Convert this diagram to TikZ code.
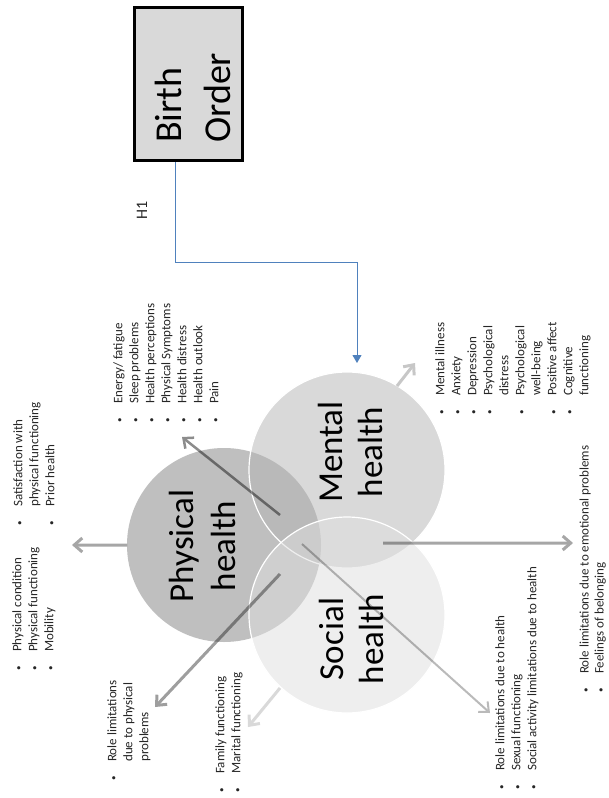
\documentclass[tikz,border=0pt]{standalone}
\usepackage{fontspec}
\setmainfont{Carlito}
\usetikzlibrary{arrows.meta}
\definecolor{txt}{HTML}{262626}
\definecolor{physc}{HTML}{BFBFBF}
\definecolor{mentc}{HTML}{B5B5B5}
\definecolor{socc}{HTML}{DFDFDF}
\definecolor{boxc}{HTML}{D9D9D9}
\definecolor{bluec}{HTML}{4F81BD}
\newcommand\bl{\makebox[6pt][c]{\fontsize{9}{9}\selectfont\textbullet}}
\newcommand\garr[4]{\begin{scope}[transparency group, opacity=#1]\draw[garrow, line width=#2] (#3) -- (#4);\end{scope}}
\tikzset{
  lst/.style={rotate=90, anchor=north west, inner sep=0pt, font=\fontsize{13}{16}\selectfont, text=txt},
  circlbl/.style={rotate=90, anchor=base, inner sep=0pt, font=\fontsize{35}{42}\selectfont, text=black},
  boxlbl/.style={rotate=90, anchor=base west, inner sep=0pt, font=\fontsize{38}{46}\selectfont, text=black},
  garrow/.style={black, -{Straight Barb[length=8pt,width=14pt]}},
  venn/.style={circle, inner sep=0pt, minimum size=196pt},
}
\begin{document}
\begin{tikzpicture}[x=1pt, y=-1pt]
\fill[white] (0,0) rectangle (609,798);
\useasboundingbox (0,0) rectangle (609,798);

% Birth order box
\node[draw=black, line width=3pt, fill=boxc, minimum width=108pt, minimum height=153pt, inner sep=0pt] (bo) at (188.5,84) {};
\node[boxlbl] (birth) at (181,143) {Birth};
\node[boxlbl] (order) at (230,143) {Order};
\node[rotate=90, inner sep=0pt, font=\fontsize{16}{18}\selectfont, text=txt] (h1) at (142,210) {H1};

% circles
\node[venn, fill=physc, minimum size=194pt] (phys) at (224,545) {};
\node[venn, fill=mentc, fill opacity=.5, draw=white, line width=1.2pt] (ment) at (347,470) {};
\node[venn, fill=socc, fill opacity=.5, draw=white, line width=1.2pt] (soc) at (347,615) {};

% blue connector
\coordinate (bstart) at (175,0);
\coordinate (mid) at (0,262);
\coordinate (tgt) at (357,363);
\draw[bluec, line width=1pt, -{Triangle[length=8pt,width=9pt]}] (bo.south -| bstart) -- (bstart |- mid) -| (tgt);

% gray arrows
\coordinate (a1s) at (127,545); \coordinate (a1e) at (72,545);
\coordinate (a2s) at (280,515); \coordinate (a2e) at (182,437);
\coordinate (a3s) at (280,574); \coordinate (a3e) at (155,707);
\coordinate (a4s) at (280,688); \coordinate (a4e) at (248,727);
\coordinate (a5s) at (397,386); \coordinate (a5e) at (415,363);
\coordinate (a6s) at (383,543); \coordinate (a6e) at (573,543);
\coordinate (a7s) at (302,544); \coordinate (a7e) at (490,713);
\garr{.35}{3pt}{a1s}{a1e}
\garr{.45}{2.5pt}{a2s}{a2e}
\garr{.38}{3pt}{a3s}{a3e}
\garr{.15}{3pt}{a4s}{a4e}
\garr{.22}{3pt}{a5s}{a5e}
\garr{.35}{3pt}{a6s}{a6e}
\garr{.27}{2pt}{a7s}{a7e}

% circle labels
\node[circlbl] (p1) at (193,546) {Physical};
\node[circlbl] (p2) at (235,546) {health};
\node[circlbl] (m1) at (342,452) {Mental};
\node[circlbl] (m2) at (382,452) {health};
\node[circlbl] (s1) at (343,639) {Social};
\node[circlbl] (s2) at (383,639) {health};

% lists
\node[lst] (la) at (11,526) {\begin{tabular}{@{}l@{\hspace{13pt}}l@{}}
\bl & Satisfaction with\\ & physical functioning\\ \bl & Prior health\end{tabular}};
\node[lst] (lb) at (10,671) {\begin{tabular}{@{}l@{\hspace{13pt}}l@{}}
\bl & Physical condition\\ \bl & Physical functioning\\ \bl & Mobility\end{tabular}};
\node[lst] (lc) at (111,423) {\begin{tabular}{@{}l@{\hspace{13pt}}l@{}}
\bl & Energy/ fatigue\\ \bl & Sleep problems\\ \bl & Health perceptions\\ \bl & Physical Symptoms\\ \bl & Health distress\\ \bl & Health outlook\\ \bl & Pain\end{tabular}};
\node[lst] (ld) at (433,415) {\begin{tabular}{@{}l@{\hspace{13pt}}l@{}}
\bl & Mental illness\\ \bl & Anxiety\\ \bl & Depression\\ \bl & Psychological\\ & distress\\ \bl & Psychological\\ & well-being\\ \bl & Positive affect\\ \bl & Cognitive\\ & functioning\end{tabular}};
\node[lst] (le) at (493,790) {\begin{tabular}{@{}l@{\hspace{13pt}}l@{}}
\bl & Role limitations due to health\\ \bl & Sexual functioning\\ \bl & Social activity limitations due to health\end{tabular}};
\node[lst, font=\fontsize{13}{15}\selectfont] (lf) at (578,693) {\begin{tabular}{@{}l@{\hspace{13pt}}l@{}}
\bl & Role limitations due to emotional problems\\ \bl & Feelings of belonging\end{tabular}};
\node[lst] (lg) at (105,781) {\begin{tabular}{@{}l@{\hspace{13pt}}l@{}}
\bl & Role limitations\\ & due to physical\\ & problems\end{tabular}};
\node[lst] (lh) at (213,793) {\begin{tabular}{@{}l@{\hspace{13pt}}l@{}}
\bl & Family functioning\\ \bl & Marital functioning\end{tabular}};
\end{tikzpicture}
\end{document}
